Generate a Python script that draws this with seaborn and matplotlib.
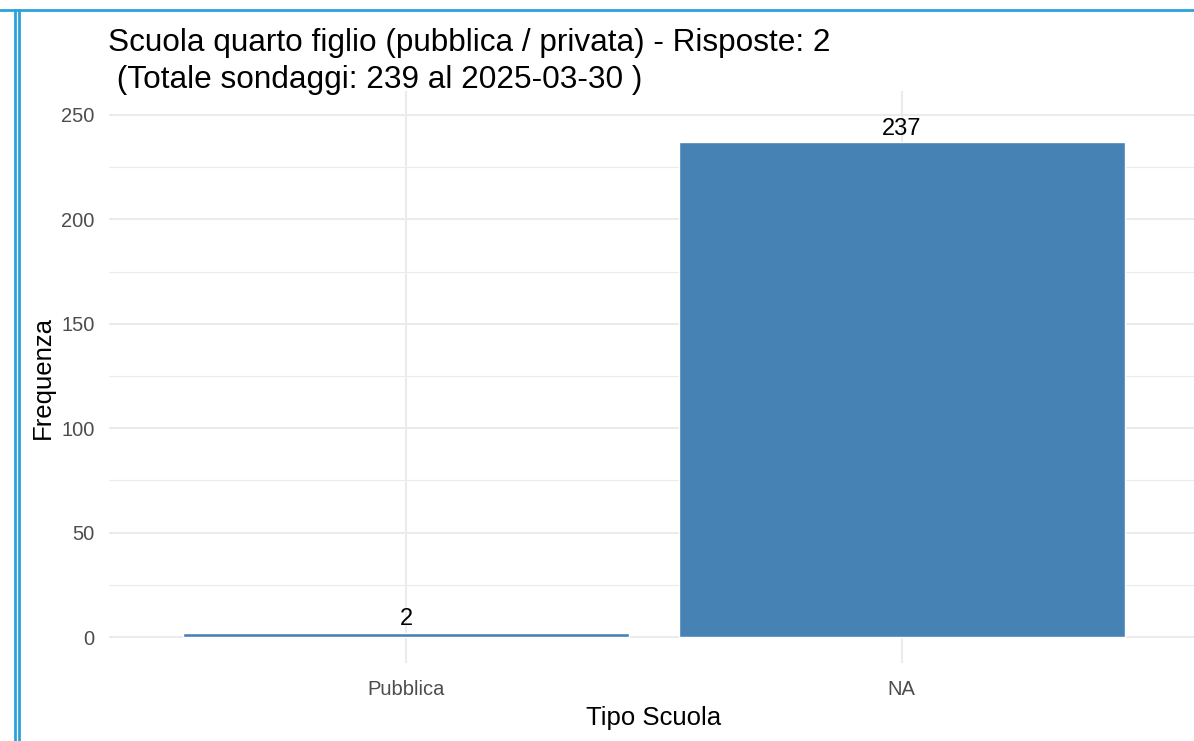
import matplotlib
matplotlib.use("Agg")
import matplotlib.pyplot as plt
from matplotlib.lines import Line2D
import seaborn as sns
import pandas as pd

categories = ["Pubblica", "NA"]
values = [2, 237]
title_lines = ["Scuola quarto figlio (pubblica / privata) - Risposte: 2",
               " (Totale sondaggi: 239 al 2025-03-30 )"]
yticks = [0, 50, 100, 150, 200, 250]
yminor = [25, 75, 125, 175, 225]

sns.set_theme(style="white")
plt.rcParams['font.family'] = ['Liberation Sans', 'DejaVu Sans']

W, H = 1194, 741
fig = plt.figure(figsize=(W / 100, H / 100), dpi=100)
fig.patch.set_facecolor("white")

left = 108.7 / W
right_px = 1199.0
bottom = 1 - 663 / H
top = 1 - 91.4 / H
ax = fig.add_axes([left, bottom, (right_px - 108.7) / W, top - bottom])
ax.set_facecolor("white")

df = pd.DataFrame({"Tipo": categories, "Freq": values})
sns.barplot(data=df, x="Tipo", y="Freq", order=categories, color="#4682B4",
            saturation=1, width=0.9, ax=ax, zorder=3)

ax.set_xlim(-0.6, 1.6)
ax.set_ylim(-12.44, 261.3)
ax.set_yticks(yticks)
ax.set_yticks(yminor, minor=True)
ax.grid(which="major", axis="both", color="#EBEBEB", linewidth=1.5, zorder=0)
ax.grid(which="minor", axis="y", color="#EBEBEB", linewidth=0.8, zorder=0)
ax.set_axisbelow(True)
for s in ax.spines.values():
    s.set_visible(False)
ax.tick_params(axis="both", which="both", length=0)
ax.tick_params(axis="y", labelsize=14.5, labelcolor="#4D4D4D", pad=10)
ax.tick_params(axis="x", labelsize=14.5, labelcolor="#4D4D4D", pad=12)

for i, v in enumerate(values):
    ax.text(i, v + 1.2, str(v), ha="center", va="bottom", fontsize=17, color="black", zorder=4)

ax.set_xlabel("Tipo Scuola", fontsize=18.5, color="black", labelpad=5)
ax.set_ylabel("Frequenza", fontsize=18.5, color="black", labelpad=5)

fig.text(108 / W, 1 - 28 / H, "\n".join(title_lines), ha="left", va="top",
         fontsize=22.7, color="black", linespacing=1.3)

# screenshot frame lines
blue = "#2AA3DA"
fig.add_artist(Line2D([0, 1], [1 - 10 / H, 1 - 10 / H], transform=fig.transFigure,
                      color=blue, linewidth=2))
fig.add_artist(Line2D([15 / W, 15 / W], [0, 1 - 10 / H], transform=fig.transFigure,
                      color=blue, linewidth=2))
fig.add_artist(Line2D([19 / W, 19 / W], [0, 1 - 10 / H], transform=fig.transFigure,
                      color=blue, linewidth=2))

fig.savefig("out.png", dpi=100, facecolor="white")
